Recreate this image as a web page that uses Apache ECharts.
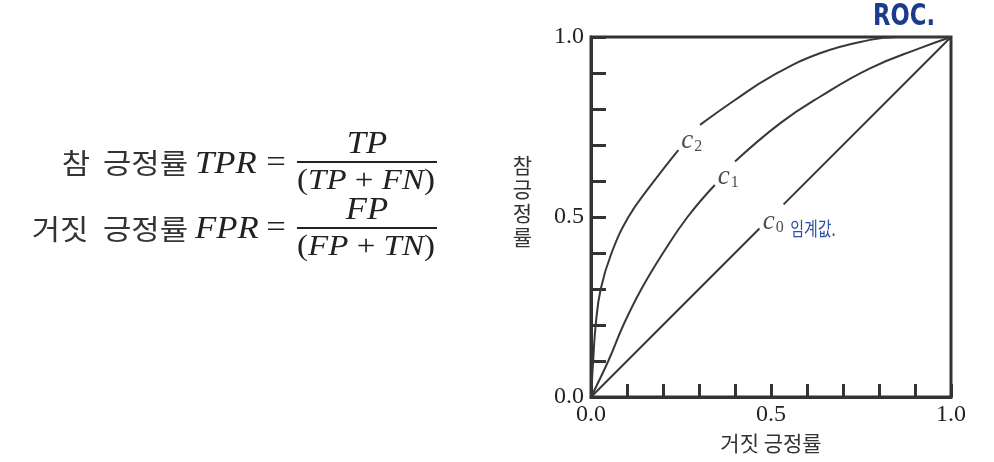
<!DOCTYPE html>
<html>
<head>
<meta charset="utf-8">
<script src="https://cdn.jsdelivr.net/npm/echarts@6/dist/echarts.min.js"></script>
<style>
html,body{margin:0;padding:0;background:#fff;}
#chart{width:994px;height:462px;}
</style>
</head>
<body>
<div id="chart"></div>
<script>
// ---- data ----
const c0X = [0, 0.468, null, 0.535, 1];
const c0Y = [0, 0.468, null, 0.535, 1];
const c1X = [0, 0.048, 0.09, 0.14, 0.2, 0.268, 0.344, null, 0.4, 0.525, 0.636, 0.775, 0.914, 1];
const c1Y = [0, 0.1, 0.2, 0.3, 0.4, 0.5, 0.589, null, 0.654, 0.76, 0.834, 0.913, 0.969, 1];
const c2X = [0, 0.006, 0.013, 0.027, 0.057, 0.104, 0.16, 0.2425, null, 0.303, 0.4, 0.5, 0.636, 0.775, 0.849, 1];
const c2Y = [0, 0.1, 0.2, 0.3, 0.4, 0.5, 0.58, 0.686, null, 0.756, 0.825, 0.89, 0.955, 0.992, 1, 1];
const curveNames = ['c0', 'c1', 'c2'];
const curveSubs = ['0', '1', '2'];
const labelX = [0.506, 0.381, 0.28];
const labelY = [0.486, 0.611, 0.71];
const tickLabels = ['0.0', '0.5', '1.0'];
const xAxisName = '거짓 긍정률';
const yAxisName = '참 긍정률';

const zip = (xs, ys) => xs.map((x, i) => (x === null ? [null, null] : [x, ys[i]]));
const lineColor = '#383838';
const serif = "'Liberation Serif','DejaVu Serif',serif";
const kr = "'Noto Sans CJK KR','Noto Sans',sans-serif";
const ink = '#222';

function tickFmt(v) {
  const s = Number(v).toFixed(1);
  return tickLabels.includes(s) ? s : '';
}

const chart = echarts.init(document.getElementById('chart'), null, {renderer: 'canvas'});

const curveSeries = [[c0X, c0Y], [c1X, c1Y], [c2X, c2Y]].map((xy, i) => ({
  type: 'line',
  name: curveNames[i],
  data: zip(xy[0], xy[1]),
  smooth: i === 0 ? false : 0.45,
  connectNulls: false,
  showSymbol: false,
  symbol: 'none',
  lineStyle: {color: lineColor, width: 2},
  z: 3
}));

function it(txt, x, y, align, size) {
  return {type: 'text', x: x, y: y, scaleX: 1.12, style: {text: txt, align: align, verticalAlign: 'middle',
    font: 'italic ' + size + 'px ' + serif, fill: ink}};
}
function rt(txt, x, y, align, size) {
  return {type: 'text', x: x, y: y, scaleX: 1.12, style: {text: txt, align: align, verticalAlign: 'middle',
    font: size + 'px ' + serif, fill: ink}};
}
function kt(txt, x, y, align) {
  return {type: 'text', x: x, y: y, scaleX: 1.1, style: {text: txt, align: align, verticalAlign: 'middle',
    font: '28px ' + kr, fill: '#333'}};
}
const denomRich = {
  r: {fontFamily: serif, fontSize: 30, fill: ink},
  i: {fontFamily: serif, fontStyle: 'italic', fontSize: 30, fill: ink}
};

const yNameChars = yAxisName.split(' ').join('').split('');

const option = {
  backgroundColor: '#fff',
  animation: false,
  grid: {left: 591, top: 37, right: 43, bottom: 65, show: true, borderColor: '#333', borderWidth: 3, backgroundColor: 'transparent'},
  xAxis: {
    type: 'value', min: 0, max: 1, interval: 0.1,
    name: xAxisName, nameLocation: 'middle', nameGap: 36,
    nameTextStyle: {fontFamily: kr, fontSize: 21, color: '#333'},
    axisLine: {show: true, lineStyle: {color: '#333', width: 3}},
    axisTick: {show: true, inside: true, length: 13, lineStyle: {color: '#333', width: 3}},
    axisLabel: {formatter: tickFmt, fontFamily: serif, fontSize: 24, color: ink, margin: 6, showMinLabel: true, showMaxLabel: true},
    splitLine: {show: false}
  },
  yAxis: {
    type: 'value', min: 0, max: 1, interval: 0.1,
    name: yNameChars.map(c => '{a|' + c + '}').join('\n') + '\n{b| }',
    nameLocation: 'middle', nameGap: 59, nameRotate: 0,
    nameTextStyle: {
      fontFamily: kr, fontSize: 20, color: '#333',
      rich: {a: {fontFamily: kr, fontSize: 21, color: '#333', lineHeight: 24}, b: {fontSize: 10, lineHeight: 32}}
    },
    axisLine: {show: true, lineStyle: {color: '#333', width: 3}},
    axisTick: {show: true, inside: true, length: 15, lineStyle: {color: '#333', width: 3}},
    axisLabel: {formatter: tickFmt, fontFamily: serif, fontSize: 24, color: ink, margin: 7, showMinLabel: true, showMaxLabel: true},
    splitLine: {show: false}
  },
  series: curveSeries.concat([{
    type: 'scatter',
    symbolSize: 0,
    silent: true,
    data: labelX.map((x, i) => ({value: [x, labelY[i]], name: curveSubs[i]})),
    label: {
      show: true, position: 'inside',
      formatter: p => '{c|c}{s|' + p.name + '}',
      rich: {
        c: {fontFamily: serif, fontStyle: 'italic', fontSize: 27, color: ink},
        s: {fontFamily: serif, fontSize: 16, color: ink, padding: [11, 0, 0, 1]}
      }
    },
    z: 4
  }]),
  graphic: [
    // formula 1
    kt('참', 76, 163, 'center'),
    kt('긍정률', 188, 163, 'right'),
    it('TPR', 195, 165, 'left', 31),
    rt('=', 276, 164, 'center', 31),
    it('TP', 367, 145, 'center', 31),
    {type: 'line', shape: {x1: 297, y1: 162, x2: 437, y2: 162}, style: {stroke: ink, lineWidth: 2}},
    {type: 'text', x: 366, y: 181, scaleX: 1.1, style: {text: '{r|(}{i|TP}{r| + }{i|FN}{r|)}', align: 'center', verticalAlign: 'middle', rich: denomRich}},
    // formula 2
    kt('거짓', 60, 229, 'center'),
    kt('긍정률', 188, 229, 'right'),
    it('FPR', 195, 230, 'left', 31),
    rt('=', 276, 229, 'center', 31),
    it('FP', 367, 211, 'center', 31),
    {type: 'line', shape: {x1: 297, y1: 228, x2: 437, y2: 228}, style: {stroke: ink, lineWidth: 2}},
    {type: 'text', x: 366, y: 247, scaleX: 1.1, style: {text: '{r|(}{i|FP}{r| + }{i|TN}{r|)}', align: 'center', verticalAlign: 'middle', rich: denomRich}},
    // handwritten notes
    {type: 'text', x: 904, y: 17, scaleX: 0.84, style: {text: 'ROC.', align: 'center', verticalAlign: 'middle',
      font: "bold 30px 'Liberation Sans Narrow','DejaVu Sans Condensed',sans-serif", fill: '#1c3b8e'}},
    {type: 'text', x: 813, y: 229, scaleY: 1.3, style: {text: '임계값.', align: 'center', verticalAlign: 'middle',
      font: "15px " + kr, fill: '#2b4ea6'}}
  ]
};
chart.setOption(option);
</script>
</body>
</html>
